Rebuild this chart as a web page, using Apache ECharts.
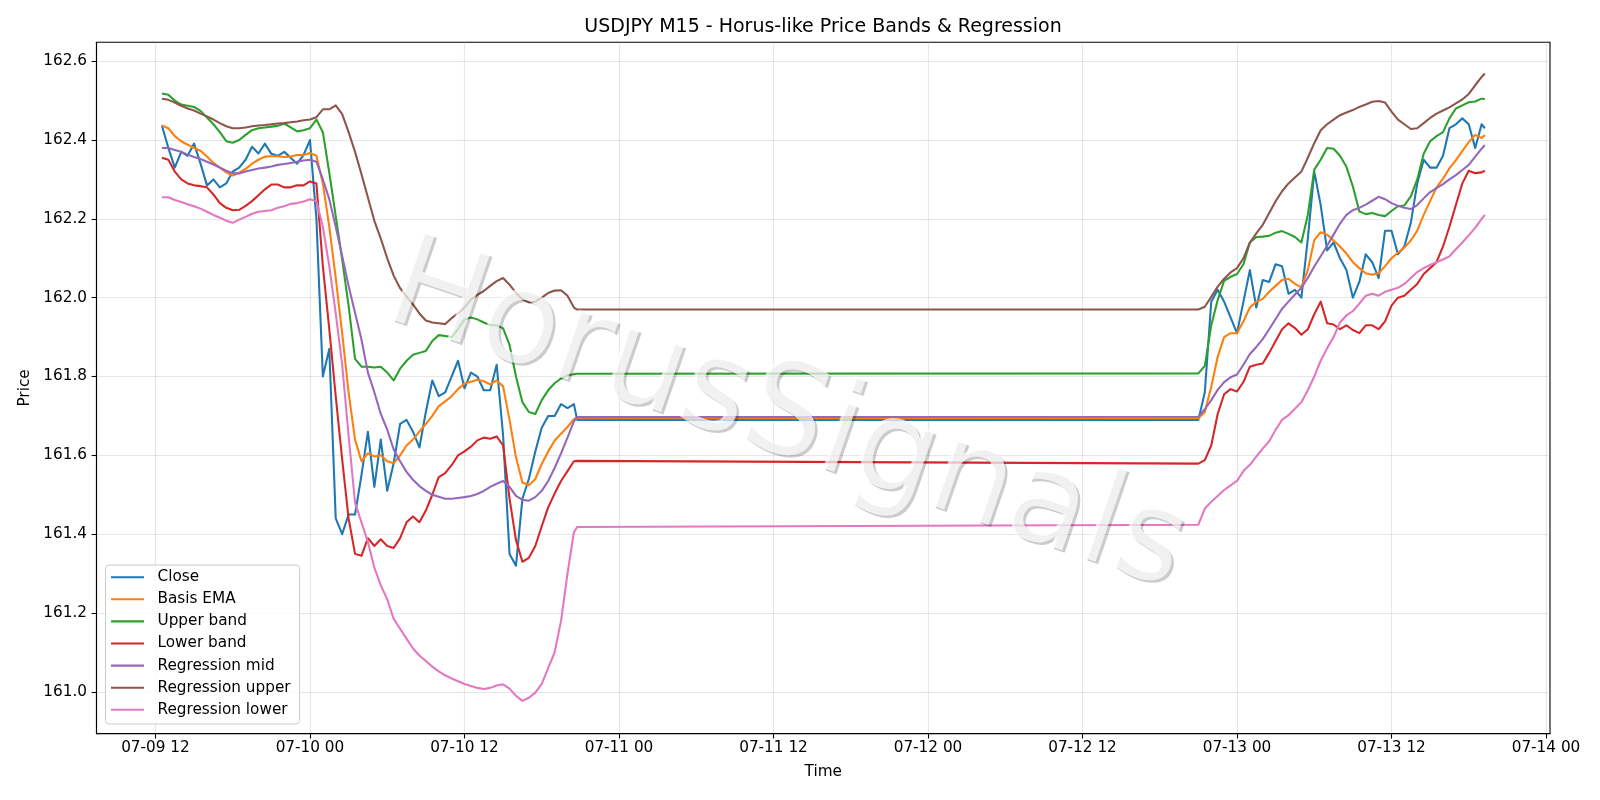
<!DOCTYPE html>
<html><head><meta charset="utf-8">
<script src="https://cdn.jsdelivr.net/npm/echarts@6/dist/echarts.min.js"></script>
<style>html,body{margin:0;padding:0;background:#fff}#c{width:1600px;height:800px}</style>
</head><body><div id="c"></div>
<script>
const chartTitle = 'USDJPY M15 - Horus-like Price Bands & Regression';
const seriesNames = ['Close','Basis EMA','Upper band','Lower band','Regression mid','Regression upper','Regression lower'];
const seriesColors = ['#1f77b4','#ff7f0e','#2ca02c','#d62728','#9467bd','#8c564b','#e377c2'];
const xTickHours = [0,12,24,36,48,60,72,84,96,108];
const yTickValues = [161.0,161.2,161.4,161.6,161.8,162.0,162.2,162.4,162.6];

const timeLabels = [
'07-09 12:30','07-09 13:00','07-09 13:30','07-09 14:00','07-09 14:30','07-09 15:00','07-09 15:30','07-09 16:00','07-09 16:30','07-09 17:00',
'07-09 17:30','07-09 18:00','07-09 18:30','07-09 19:00','07-09 19:30','07-09 20:00','07-09 20:30','07-09 21:00','07-09 21:30','07-09 22:00',
'07-09 22:30','07-09 23:00','07-09 23:30','07-10 00:00','07-10 00:30','07-10 01:00','07-10 01:30','07-10 02:00','07-10 02:30','07-10 03:00',
'07-10 03:30','07-10 04:00','07-10 04:30','07-10 05:00','07-10 05:30','07-10 06:00','07-10 06:30','07-10 07:00','07-10 07:30','07-10 08:00',
'07-10 08:30','07-10 09:00','07-10 09:30','07-10 10:00','07-10 10:30','07-10 11:00','07-10 11:30','07-10 12:00','07-10 12:30','07-10 13:00',
'07-10 13:30','07-10 14:00','07-10 14:30','07-10 15:00','07-10 15:30','07-10 16:00','07-10 16:30','07-10 17:00','07-10 17:30','07-10 18:00',
'07-10 18:30','07-10 19:00','07-10 19:30','07-10 20:00','07-10 20:30','07-10 20:45',
'07-12 21:00','07-12 21:30','07-12 22:00','07-12 22:30','07-12 23:00','07-12 23:30','07-13 00:00','07-13 00:30','07-13 01:00','07-13 01:30',
'07-13 02:00','07-13 02:30','07-13 03:00','07-13 03:30','07-13 04:00','07-13 04:30','07-13 05:00','07-13 05:30','07-13 06:00','07-13 06:30',
'07-13 07:00','07-13 07:30','07-13 08:00','07-13 08:30','07-13 09:00','07-13 09:30','07-13 10:00','07-13 10:30','07-13 11:00','07-13 11:30',
'07-13 12:00','07-13 12:30','07-13 13:00','07-13 13:30','07-13 14:00','07-13 14:30','07-13 15:00','07-13 15:30','07-13 16:00','07-13 16:30',
'07-13 17:00','07-13 17:30','07-13 18:00','07-13 18:30','07-13 19:00','07-13 19:15'
];

const closeVals = [
162.437,162.38,162.33,162.37,162.36,162.391,162.34,162.285,162.30,162.28,
162.29,162.32,162.33,162.35,162.383,162.366,162.391,162.365,162.36,162.37,
162.355,162.34,162.362,162.40,162.20,161.80,161.87,161.44,161.40,161.45,
161.45,161.55,161.66,161.52,161.64,161.51,161.58,161.68,161.69,161.66,
161.62,161.71,161.79,161.75,161.76,161.80,161.84,161.77,161.81,161.80,
161.765,161.765,161.83,161.65,161.35,161.32,161.49,161.54,161.61,161.67,
161.70,161.70,161.73,161.72,161.73,161.69,
161.69,161.76,161.99,162.02,161.99,161.95,161.91,161.99,162.07,161.975,
162.045,162.04,162.085,162.08,162.01,162.02,162.00,162.15,162.32,162.235,
162.12,162.14,162.10,162.07,162.00,162.04,162.11,162.09,162.05,162.17,
162.17,162.11,162.13,162.19,162.29,162.35,162.33,162.33,162.36,162.43,
162.44,162.455,162.44,162.38,162.44,162.43
];
const emaVals = [
162.437,162.43,162.41,162.397,162.388,162.38,162.373,162.358,162.342,162.33,
162.318,162.31,162.317,162.327,162.34,162.35,162.358,162.359,162.359,162.357,
162.358,162.362,162.362,162.367,162.36,162.29,162.18,162.05,161.91,161.76,
161.64,161.585,161.605,161.597,161.60,161.585,161.58,161.60,161.625,161.64,
161.66,161.68,161.70,161.725,161.737,161.75,161.768,161.782,161.787,161.792,
161.788,161.78,161.79,161.775,161.69,161.595,161.531,161.524,161.54,161.578,
161.61,161.637,161.655,161.672,161.692,161.694,
161.694,161.71,161.774,161.85,161.90,161.91,161.91,161.94,161.975,161.99,
161.997,162.015,162.03,162.045,162.048,162.035,162.026,162.07,162.146,162.166,
162.16,162.145,162.13,162.112,162.09,162.075,162.062,162.058,162.062,162.08,
162.10,162.114,162.127,162.145,162.17,162.21,162.245,162.28,162.302,162.328,
162.349,162.372,162.395,162.413,162.405,162.413
];
const upperVals = [
162.518,162.515,162.50,162.49,162.487,162.484,162.474,162.457,162.44,162.42,
162.397,162.393,162.40,162.413,162.425,162.43,162.432,162.434,162.436,162.442,
162.432,162.422,162.425,162.43,162.452,162.42,162.317,162.207,162.097,161.979,
161.845,161.825,161.825,161.823,161.825,161.81,161.79,161.82,161.84,161.855,
161.86,161.865,161.89,161.905,161.903,161.90,161.92,161.945,161.95,161.945,
161.937,161.93,161.93,161.922,161.88,161.80,161.735,161.71,161.705,161.74,
161.765,161.783,161.795,161.803,161.806,161.807,
161.808,161.827,161.93,161.994,162.043,162.053,162.06,162.085,162.14,162.154,
162.155,162.157,162.165,162.169,162.162,162.154,162.14,162.21,162.325,162.35,
162.38,162.378,162.36,162.332,162.282,162.219,162.212,162.215,162.21,162.207,
162.22,162.232,162.234,162.257,162.30,162.365,162.397,162.41,162.42,162.455,
162.48,162.488,162.496,162.498,162.505,162.504
];
const lowerVals = [
162.355,162.35,162.32,162.30,162.29,162.285,162.283,162.28,162.262,162.24,
162.228,162.222,162.223,162.233,162.245,162.26,162.275,162.287,162.287,162.28,
162.28,162.285,162.285,162.295,162.29,162.08,161.92,161.75,161.59,161.44,
161.35,161.345,161.39,161.37,161.387,161.37,161.365,161.39,161.43,161.445,
161.43,161.46,161.50,161.545,161.555,161.575,161.60,161.61,161.622,161.638,
161.645,161.642,161.648,161.625,161.49,161.385,161.33,161.34,161.37,161.42,
161.468,161.503,161.535,161.56,161.585,161.586,
161.579,161.588,161.625,161.705,161.755,161.768,161.762,161.786,161.825,161.83,
161.833,161.86,161.89,161.92,161.935,161.923,161.906,161.92,161.958,161.99,
161.935,161.932,161.92,161.93,161.918,161.91,161.93,161.93,161.92,161.94,
161.98,162.00,162.005,162.02,162.035,162.06,162.075,162.09,162.13,162.18,
162.235,162.29,162.322,162.316,162.318,162.322
];
const regMidVals = [
162.38,162.38,162.375,162.37,162.363,162.357,162.352,162.345,162.338,162.33,
162.322,162.316,162.315,162.32,162.324,162.328,162.33,162.333,162.337,162.339,
162.342,162.345,162.348,162.35,162.345,162.30,162.25,162.18,162.106,162.03,
161.962,161.894,161.81,161.76,161.705,161.665,161.615,161.585,161.558,161.538,
161.522,161.51,161.50,161.495,161.49,161.49,161.492,161.494,161.497,161.502,
161.51,161.52,161.528,161.535,161.52,161.497,161.487,161.485,161.494,161.51,
161.535,161.568,161.605,161.645,161.686,161.697,
161.698,161.717,161.74,161.766,161.786,161.798,161.805,161.83,161.857,161.875,
161.895,161.92,161.946,161.972,161.99,162.008,162.025,162.05,162.079,162.105,
162.132,162.16,162.188,162.21,162.222,162.228,162.236,162.246,162.256,162.25,
162.24,162.233,162.228,162.225,162.235,162.252,162.268,162.278,162.288,162.30,
162.311,162.324,162.337,162.358,162.378,162.387
];
const regUpperVals = [
162.505,162.502,162.495,162.487,162.48,162.475,162.467,162.46,162.452,162.443,
162.435,162.43,162.43,162.432,162.435,162.437,162.438,162.44,162.442,162.443,
162.445,162.447,162.45,162.452,162.458,162.478,162.478,162.488,162.466,162.42,
162.37,162.313,162.254,162.195,162.15,162.10,162.056,162.024,162.003,161.983,
161.96,161.942,161.937,161.935,161.933,161.948,161.96,161.975,161.995,162.007,
162.017,162.03,162.042,162.05,162.033,162.012,161.996,161.988,161.99,162.00,
162.012,162.018,162.019,162.005,161.975,161.97,
161.97,161.977,162.002,162.028,162.048,162.064,162.075,162.10,162.14,162.163,
162.185,162.215,162.245,162.27,162.29,162.305,162.32,162.355,162.392,162.425,
162.44,162.452,162.463,162.47,162.476,162.484,162.49,162.497,162.499,162.495,
162.472,162.452,162.44,162.428,162.43,162.443,162.456,162.467,162.475,162.483,
162.493,162.503,162.517,162.539,162.56,162.569
];
const regLowerVals = [
162.255,162.255,162.248,162.243,162.237,162.232,162.226,162.218,162.21,162.203,
162.195,162.19,162.198,162.205,162.213,162.218,162.22,162.222,162.228,162.232,
162.238,162.24,162.244,162.25,162.245,162.18,162.08,161.96,161.83,161.65,
161.48,161.43,161.38,161.315,161.27,161.235,161.185,161.16,161.135,161.11,
161.092,161.078,161.064,161.052,161.042,161.034,161.027,161.02,161.015,161.01,
161.007,161.01,161.016,161.019,161.008,160.99,160.977,160.985,160.998,161.02,
161.06,161.10,161.18,161.30,161.405,161.418,
161.424,161.465,161.482,161.497,161.512,161.524,161.535,161.56,161.576,161.597,
161.617,161.636,161.665,161.69,161.702,161.718,161.735,161.765,161.80,161.84,
161.872,161.90,161.937,161.955,161.966,161.985,162.005,162.01,162.005,162.015,
162.02,162.025,162.035,162.05,162.065,162.075,162.083,162.09,162.097,162.105,
162.123,162.14,162.158,162.177,162.20,162.21
];

const allVals = [closeVals, emaVals, upperVals, lowerVals, regMidVals, regUpperVals, regLowerVals];
const BASE = Date.UTC(2025, 6, 9, 12, 0);
function toHours(s) {
  const mo = +s.slice(0, 2), d = +s.slice(3, 5), hh = +s.slice(6, 8), mm = +s.slice(9, 11);
  return (Date.UTC(2025, mo - 1, d, hh, mm) - BASE) / 3600000;
}
function pad(n) { return (n < 10 ? '0' : '') + n; }
function hourLabel(h) {
  const t = new Date(BASE + h * 3600000);
  return pad(t.getUTCMonth() + 1) + '-' + pad(t.getUTCDate()) + ' ' + pad(t.getUTCHours());
}
const xHours = timeLabels.map(toHours);

const FONT = 'DejaVu Sans';
const FS = 15.28;
const chart = echarts.init(document.getElementById('c'), null, { renderer: 'canvas' });
const series = seriesNames.map((name, i) => ({
  name: name,
  type: 'line',
  showSymbol: false,
  symbol: 'none',
  data: xHours.map((x, k) => [x, allVals[i][k]]),
  lineStyle: { color: seriesColors[i], width: 2.08, join: 'round' },
  itemStyle: { color: seriesColors[i] },
  z: 2 + i * 0.01
}));

const wmX = 786, wmY = 420, wmRot = -19 * Math.PI / 180, wmSize = 128;
chart.setOption({
  animation: false,
  backgroundColor: '#ffffff',
  title: {
    text: chartTitle, left: 823, top: 17.3, textAlign: 'center', padding: 0,
    textStyle: { fontFamily: FONT, fontSize: 19, fontWeight: 'normal', color: '#000' }
  },
  grid: { left: 96.5, right: 50, top: 42.3, bottom: 66.4, show: true, borderColor: '#000', borderWidth: 1.1, backgroundColor: '#fff' },
  xAxis: {
    type: 'value', min: -4.58, max: 108.31,
    name: 'Time', nameLocation: 'middle', nameGap: 30.5,
    nameTextStyle: { fontFamily: FONT, fontSize: FS, color: '#000' },
    axisLine: { show: true, onZero: false, lineStyle: { color: '#000', width: 1.1 } },
    axisTick: { show: true, customValues: xTickHours, length: 4.9, lineStyle: { color: '#000', width: 1.1 } },
    axisLabel: { customValues: xTickHours, formatter: hourLabel, fontFamily: FONT, fontSize: FS, color: '#000', margin: 6.8 },
    splitLine: { show: true, lineStyle: { color: 'rgba(176,176,176,0.3)', width: 1.1 } }
  },
  yAxis: {
    type: 'value', min: 160.894, max: 162.648,
    name: 'Price', nameLocation: 'middle', nameGap: 60.5,
    nameTextStyle: { fontFamily: FONT, fontSize: FS, color: '#000' },
    axisLine: { show: true, onZero: false, lineStyle: { color: '#000', width: 1.1 } },
    axisTick: { show: true, customValues: yTickValues, length: 4.9, lineStyle: { color: '#000', width: 1.1 } },
    axisLabel: { customValues: yTickValues, formatter: v => v.toFixed(1), fontFamily: FONT, fontSize: FS, color: '#000', margin: 9.5 },
    splitLine: { show: true, lineStyle: { color: 'rgba(176,176,176,0.3)', width: 1.1 } }
  },
  legend: {
    orient: 'vertical', left: 105.5, top: 565,
    data: seriesNames, icon: 'rect', itemWidth: 33, itemHeight: 2.1, itemGap: 7.1,
    padding: [4.7, 9, 6.7, 5.5],
    backgroundColor: 'rgba(255,255,255,0.8)', borderColor: '#cccccc', borderWidth: 1, borderRadius: 3.5,
    textStyle: { fontFamily: FONT, fontSize: FS, color: '#000', padding: [0, 0, 0, 8.5] }
  },
  graphic: [
    { type: 'text', x: wmX + 2.5, y: wmY + 2.5, rotation: wmRot, z: 100, silent: true,
      style: { text: 'HorusSignals', fontFamily: FONT, fontSize: wmSize, fill: 'rgba(0,0,0,0.2)', align: 'center', verticalAlign: 'middle' } },
    { type: 'text', x: wmX, y: wmY, rotation: wmRot, z: 101, silent: true,
      style: { text: 'HorusSignals', fontFamily: FONT, fontSize: wmSize, fill: 'rgba(255,255,255,0.72)', align: 'center', verticalAlign: 'middle' } }
  ],
  series: series
});
</script>
</body></html>
